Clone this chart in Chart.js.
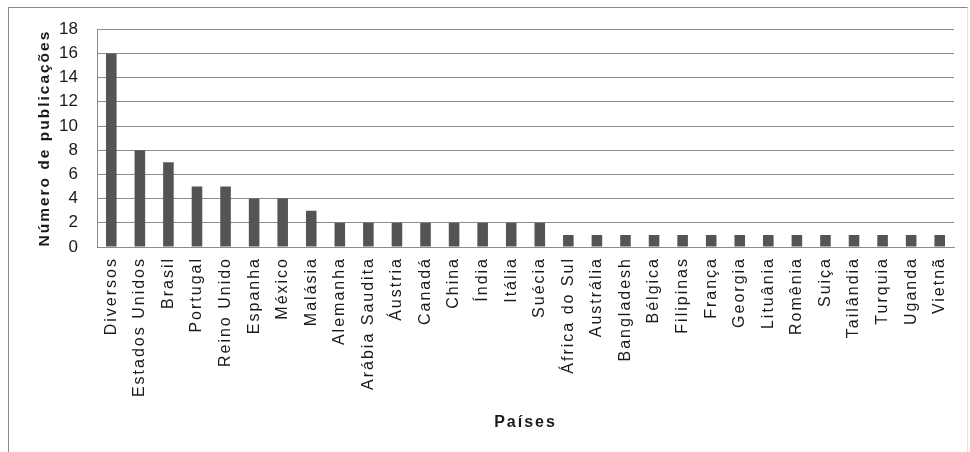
<!DOCTYPE html>
<html lang="pt">
<head>
<meta charset="UTF-8">
<title>Número de publicações por país</title>
<script src="https://cdn.jsdelivr.net/npm/chart.js"></script>
<style>
  html, body { margin: 0; padding: 0; background: #fff; }
  body { width: 970px; height: 452px; position: relative; overflow: hidden; }
  .moldura {
    position: absolute; left: 8px; top: 7px; width: 958px; height: 470px;
    border-left: 1px solid #8a8a8a; border-top: 1px solid #8a8a8a; border-right: 1px solid #e4e4e4;
  }
  #grafico { position: absolute; left: 0; top: 0; }
</style>
</head>
<body>
<div class="moldura"></div>
<canvas id="grafico" width="970" height="452"></canvas>
<script>
  // dados
  const paises = ['Diversos', 'Estados Unidos', 'Brasil', 'Portugal', 'Reino Unido', 'Espanha', 'México',
    'Malásia', 'Alemanha', 'Arábia Saudita', 'Áustria', 'Canadá', 'China', 'Índia', 'Itália', 'Suécia',
    'África do Sul', 'Austrália', 'Bangladesh', 'Bélgica', 'Filipinas', 'França', 'Georgia', 'Lituânia',
    'Romênia', 'Suiça', 'Tailândia', 'Turquia', 'Uganda', 'Vietnã'];
  const publicacoes = [16, 8, 7, 5, 5, 4, 4, 3, 2, 2, 2, 2, 2, 2, 2, 2, 1, 1, 1, 1, 1, 1, 1, 1, 1, 1, 1, 1, 1, 1];
  const eixoY = { min: 0, max: 18, passo: 2 };

  const corBarra = '#545454';
  const corGrade = '#8c8c8c';
  const fonte = '"Liberation Sans", Arial, sans-serif';

  // texto do gráfico original é espaçado; os números do eixo Y não
  const espacamento = {
    id: 'espacamento',
    afterLayout(chart) {
      const y = chart.scales.y;
      if (y && !y._semEspaco) {
        const original = y.drawLabels.bind(y);
        y.drawLabels = function (area) {
          const ctx = this.ctx;
          const antes = ctx.letterSpacing;
          ctx.letterSpacing = '0px';
          original(area);
          ctx.letterSpacing = antes;
        };
        y._semEspaco = true;
      }
    },
    beforeDraw(chart) {
      chart.ctx.letterSpacing = '2px';
    }
  };

  const config = {
    type: 'bar',
    data: {
      labels: paises,
      datasets: [{
        label: 'Número de publicações',
        data: publicacoes,
        backgroundColor: corBarra,
        borderWidth: 0,
        barPercentage: 0.37,
        categoryPercentage: 1
      }]
    },
    options: {
      responsive: false,
      animation: false,
      layout: { padding: { left: 0, top: 29, right: 16, bottom: 0 } },
      plugins: {
        legend: { display: false },
        tooltip: { enabled: false }
      },
      scales: {
        x: {
          grid: { display: false },
          border: { display: true, color: corGrade, width: 1 },
          ticks: {
            autoSkip: false,
            minRotation: 90,
            maxRotation: 90,
            padding: 2,
            color: '#1a1a1a',
            font: { family: fonte, size: 16 }
          },
          title: {
            display: true,
            text: 'Países',
            color: '#1a1a1a',
            font: { family: fonte, size: 16, weight: 'bold' },
            padding: { top: 0, bottom: 20 }
          },
          afterFit(scale) { scale.height = 205; }
        },
        y: {
          min: eixoY.min,
          max: eixoY.max,
          grid: { color: corGrade, lineWidth: 1, drawTicks: false },
          border: { display: true, color: corGrade, width: 1 },
          ticks: {
            stepSize: eixoY.passo,
            padding: 19,
            color: '#1a1a1a',
            font: { family: fonte, size: 17 }
          },
          title: {
            display: true,
            text: 'Número de publicações',
            color: '#1a1a1a',
            font: { family: fonte, size: 15.5, weight: 'bold' },
            padding: { top: 35, bottom: 0 }
          },
          afterFit(scale) { scale.width = 97; }
        }
      }
    },
    plugins: [espacamento]
  };

  const grafico = new Chart(document.getElementById('grafico'), config);
</script>
</body>
</html>
